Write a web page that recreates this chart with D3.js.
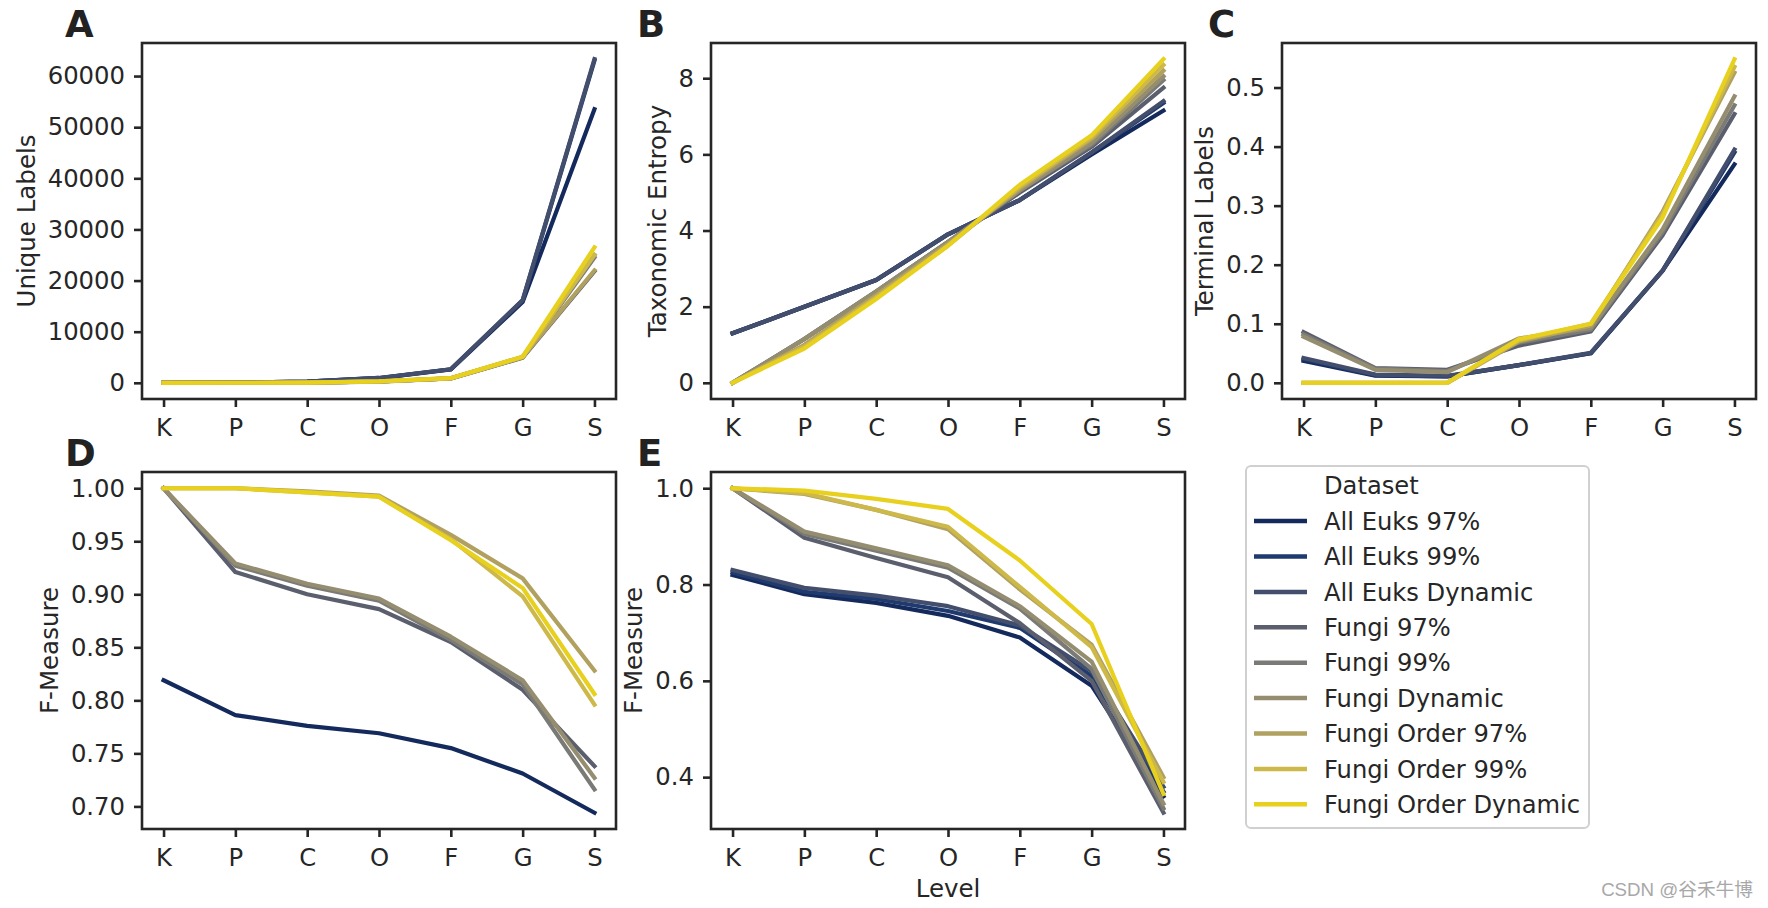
<!DOCTYPE html>
<html>
<head>
<meta charset="utf-8">
<script src="https://cdn.jsdelivr.net/npm/d3@7"></script>
<style>
  html, body { margin: 0; padding: 0; background: #ffffff; }
  svg { display: block; font-family: "DejaVu Sans", sans-serif; }
</style>
</head>
<body>
<svg id="chart" width="1768" height="908"></svg>
<script>
// ---------------- DATA ----------------
const levels = ["K", "P", "C", "O", "F", "G", "S"];
const datasets = ["All Euks 97%", "All Euks 99%", "All Euks Dynamic",
                  "Fungi 97%", "Fungi 99%", "Fungi Dynamic",
                  "Fungi Order 97%", "Fungi Order 99%", "Fungi Order Dynamic"];
const palette = ["#142a5c", "#1f3a6e", "#434e6d", "#5b5e6d", "#7a7b77",
                 "#958d70", "#b0a160", "#cdb84a", "#e8d01e"];

// A: Unique Labels
const uniqueLabels = [
  [1, 30, 250, 900, 2600, 15800, 53500],
  [1, 30, 260, 950, 2650, 16100, 63000],
  [1, 30, 260, 950, 2650, 16200, 63300],
  [1, 10, 40, 250, 850, 4900, 21800],
  [1, 10, 40, 260, 870, 5000, 24500],
  [1, 10, 40, 260, 880, 5000, 25000],
  [1, 10, 40, 260, 880, 5000, 22000],
  [1, 10, 40, 270, 900, 5100, 25000],
  [1, 10, 40, 270, 900, 5100, 26500]
];
// B: Taxonomic Entropy
const taxonomicEntropy = [
  [1.3, 2.0, 2.7, 3.9, 4.8, 6.0, 7.15],
  [1.3, 2.0, 2.7, 3.9, 4.8, 6.05, 7.35],
  [1.3, 2.0, 2.7, 3.9, 4.8, 6.05, 7.4],
  [0, 1.15, 2.4, 3.7, 5.0, 6.2, 7.75],
  [0, 1.15, 2.4, 3.7, 5.05, 6.25, 7.95],
  [0, 1.15, 2.4, 3.7, 5.05, 6.3, 8.05],
  [0, 1.0, 2.3, 3.65, 5.1, 6.4, 8.2],
  [0, 0.95, 2.25, 3.6, 5.15, 6.45, 8.35],
  [0, 0.9, 2.2, 3.6, 5.2, 6.5, 8.5]
];
// C: Terminal Labels
const terminalLabels = [
  [0.037, 0.012, 0.011, 0.03, 0.05, 0.19, 0.37],
  [0.040, 0.013, 0.011, 0.03, 0.05, 0.19, 0.39],
  [0.042, 0.014, 0.012, 0.03, 0.051, 0.19, 0.395],
  [0.086, 0.025, 0.022, 0.063, 0.087, 0.25, 0.455],
  [0.082, 0.024, 0.020, 0.068, 0.09, 0.255, 0.47],
  [0.078, 0.022, 0.018, 0.075, 0.093, 0.26, 0.485],
  [0, 0, 0, 0.070, 0.097, 0.29, 0.525],
  [0, 0, 0, 0.072, 0.100, 0.285, 0.535],
  [0, 0, 0, 0.074, 0.100, 0.28, 0.548]
];
// D: F-Measure (first)
const fMeasureD = [
  [0.819, 0.786, 0.776, 0.769, 0.755, 0.731, 0.694],
  null,
  null,
  [1.0, 0.921, 0.900, 0.886, 0.855, 0.810, 0.738],
  [1.0, 0.927, 0.908, 0.894, 0.857, 0.815, 0.716],
  [1.0, 0.929, 0.910, 0.896, 0.860, 0.819, 0.727],
  [1.0, 1.0, 0.997, 0.993, 0.956, 0.915, 0.828],
  [1.0, 1.0, 0.996, 0.992, 0.952, 0.898, 0.796],
  [1.0, 1.0, 0.996, 0.992, 0.951, 0.906, 0.806]
];
// E: F-Measure (second)
const fMeasureE = [
  [0.820, 0.780, 0.762, 0.735, 0.690, 0.590, 0.360],
  [0.825, 0.785, 0.770, 0.745, 0.710, 0.610, 0.370],
  [0.830, 0.793, 0.777, 0.755, 0.715, 0.620, 0.380],
  [1.0, 0.897, 0.855, 0.815, 0.720, 0.600, 0.326],
  [1.0, 0.905, 0.870, 0.835, 0.750, 0.625, 0.335],
  [1.0, 0.910, 0.875, 0.840, 0.755, 0.640, 0.345],
  [1.0, 0.988, 0.955, 0.915, 0.790, 0.675, 0.400],
  [1.0, 0.990, 0.955, 0.920, 0.795, 0.670, 0.390],
  [1.0, 0.995, 0.978, 0.957, 0.850, 0.718, 0.365]
];
const yTicksA = [0, 10000, 20000, 30000, 40000, 50000, 60000];
const yTicksB = [0, 2, 4, 6, 8];
const yTicksC = [0, 0.1, 0.2, 0.3, 0.4, 0.5];
const yTicksD = [0.70, 0.75, 0.80, 0.85, 0.90, 0.95, 1.00];
const yTicksE = [0.4, 0.6, 0.8, 1.0];

// ---------------- LAYOUT ----------------
const svg = d3.select("#chart");
const INK = "#262626";
const panels = [
  {letter: "A", data: uniqueLabels, ticks: yTicksA, fmt: d3.format("d"), label: "Unique Labels",
   x0: 142, x1: 616, y0: 43, y1: 399},
  {letter: "B", data: taxonomicEntropy, ticks: yTicksB, fmt: d3.format("d"), label: "Taxonomic Entropy",
   x0: 711, x1: 1185, y0: 43, y1: 399},
  {letter: "C", data: terminalLabels, ticks: yTicksC, fmt: d3.format(".1f"), label: "Terminal Labels",
   x0: 1282, x1: 1756, y0: 43, y1: 399},
  {letter: "D", data: fMeasureD, ticks: yTicksD, fmt: d3.format(".2f"), label: "F-Measure",
   x0: 142, x1: 616, y0: 472, y1: 829},
  {letter: "E", data: fMeasureE, ticks: yTicksE, fmt: d3.format(".1f"), label: "F-Measure",
   x0: 711, x1: 1185, y0: 472, y1: 829, xlabel: "Level"}
];

panels.forEach(p => {
  const w = p.x1 - p.x0, h = p.y1 - p.y0;
  const g = svg.append("g").attr("transform", `translate(${p.x0},${p.y0})`);

  // matplotlib-like 5% margins on x
  const xm = w / (1 + 2 * 0.05) * 0.05;
  const x = d3.scalePoint().domain(levels).range([xm, w - xm]).padding(0);

  const all = p.data.filter(s => s).flat();
  const [mn, mx] = d3.extent(all);
  const pad = (mx - mn) * 0.05;
  const y = d3.scaleLinear().domain([mn - pad, mx + pad]).range([h, 0]);

  // lines
  const line = d3.line().x((d, i) => x(levels[i])).y(d => y(d));
  p.data.forEach((s, i) => {
    if (!s) return;
    g.append("path").datum(s)
      .attr("d", line)
      .attr("fill", "none")
      .attr("stroke", palette[i])
      .attr("stroke-width", 4.2)
      .attr("stroke-linejoin", "round")
      .attr("stroke-linecap", "square");
  });

  // frame
  g.append("rect").attr("x", 0).attr("y", 0).attr("width", w).attr("height", h)
    .attr("fill", "none").attr("stroke", INK).attr("stroke-width", 2.6);

  // axes
  const xa = g.append("g").attr("transform", `translate(0,${h})`)
    .call(d3.axisBottom(x).tickSize(8).tickPadding(12));
  const ya = g.append("g")
    .call(d3.axisLeft(y).tickValues(p.ticks).tickFormat(p.fmt).tickSize(8).tickPadding(9));
  [xa, ya].forEach(a => {
    a.select(".domain").remove();
    a.selectAll(".tick line").attr("stroke", INK).attr("stroke-width", 2.6);
    a.selectAll(".tick text").attr("fill", INK)
      .style("font-family", "DejaVu Sans").style("font-size", "24.3px");
  });

  // y label, placed left of tick labels
  let minX = 0;
  ya.selectAll(".tick text").each(function () {
    minX = Math.min(minX, this.getBBox().x);
  });
  g.append("text")
    .attr("transform", `translate(${minX - 13},${h / 2}) rotate(-90)`)
    .attr("text-anchor", "middle")
    .attr("fill", INK)
    .style("font-size", "24.5px")
    .text(p.label);

  if (p.xlabel) {
    g.append("text")
      .attr("x", w / 2).attr("y", h + 68)
      .attr("text-anchor", "middle")
      .attr("fill", INK)
      .style("font-size", "24.5px")
      .text(p.xlabel);
  }

  // panel letter
  svg.append("text")
    .attr("x", p.x0 - (p.letter === "A" || p.letter === "D" ? 77 : 74))
    .attr("y", p.y0 - 6)
    .attr("fill", "#222222")
    .style("font-size", "37px")
    .style("font-weight", "bold")
    .text(p.letter);
});

// ---------------- LEGEND ----------------
const lg = svg.append("g");
lg.append("rect")
  .attr("x", 1246).attr("y", 466).attr("width", 343).attr("height", 362)
  .attr("rx", 5).attr("ry", 5)
  .attr("fill", "#ffffff").attr("stroke", "#d0d0d0").attr("stroke-width", 2);
const rowY = i => 485.7 + i * 35.4;
lg.append("text").attr("x", 1324).attr("y", rowY(0)).attr("dy", "0.36em")
  .attr("fill", INK).style("font-size", "24.2px").text("Dataset");
datasets.forEach((name, i) => {
  const yy = rowY(i + 1);
  lg.append("line").attr("x1", 1254).attr("x2", 1307).attr("y1", yy).attr("y2", yy)
    .attr("stroke", palette[i]).attr("stroke-width", 4.5);
  lg.append("text").attr("x", 1324).attr("y", yy).attr("dy", "0.36em")
    .attr("fill", INK).style("font-size", "24.2px").text(name);
});

// watermark
svg.append("text")
  .attr("x", 1753).attr("y", 896)
  .attr("text-anchor", "end")
  .attr("fill", "#a8a8a8")
  .style("font-family", "'Liberation Sans', 'Noto Sans CJK SC', sans-serif")
  .style("font-size", "18.7px")
  .text("CSDN @谷禾牛博");
</script>
</body>
</html>
